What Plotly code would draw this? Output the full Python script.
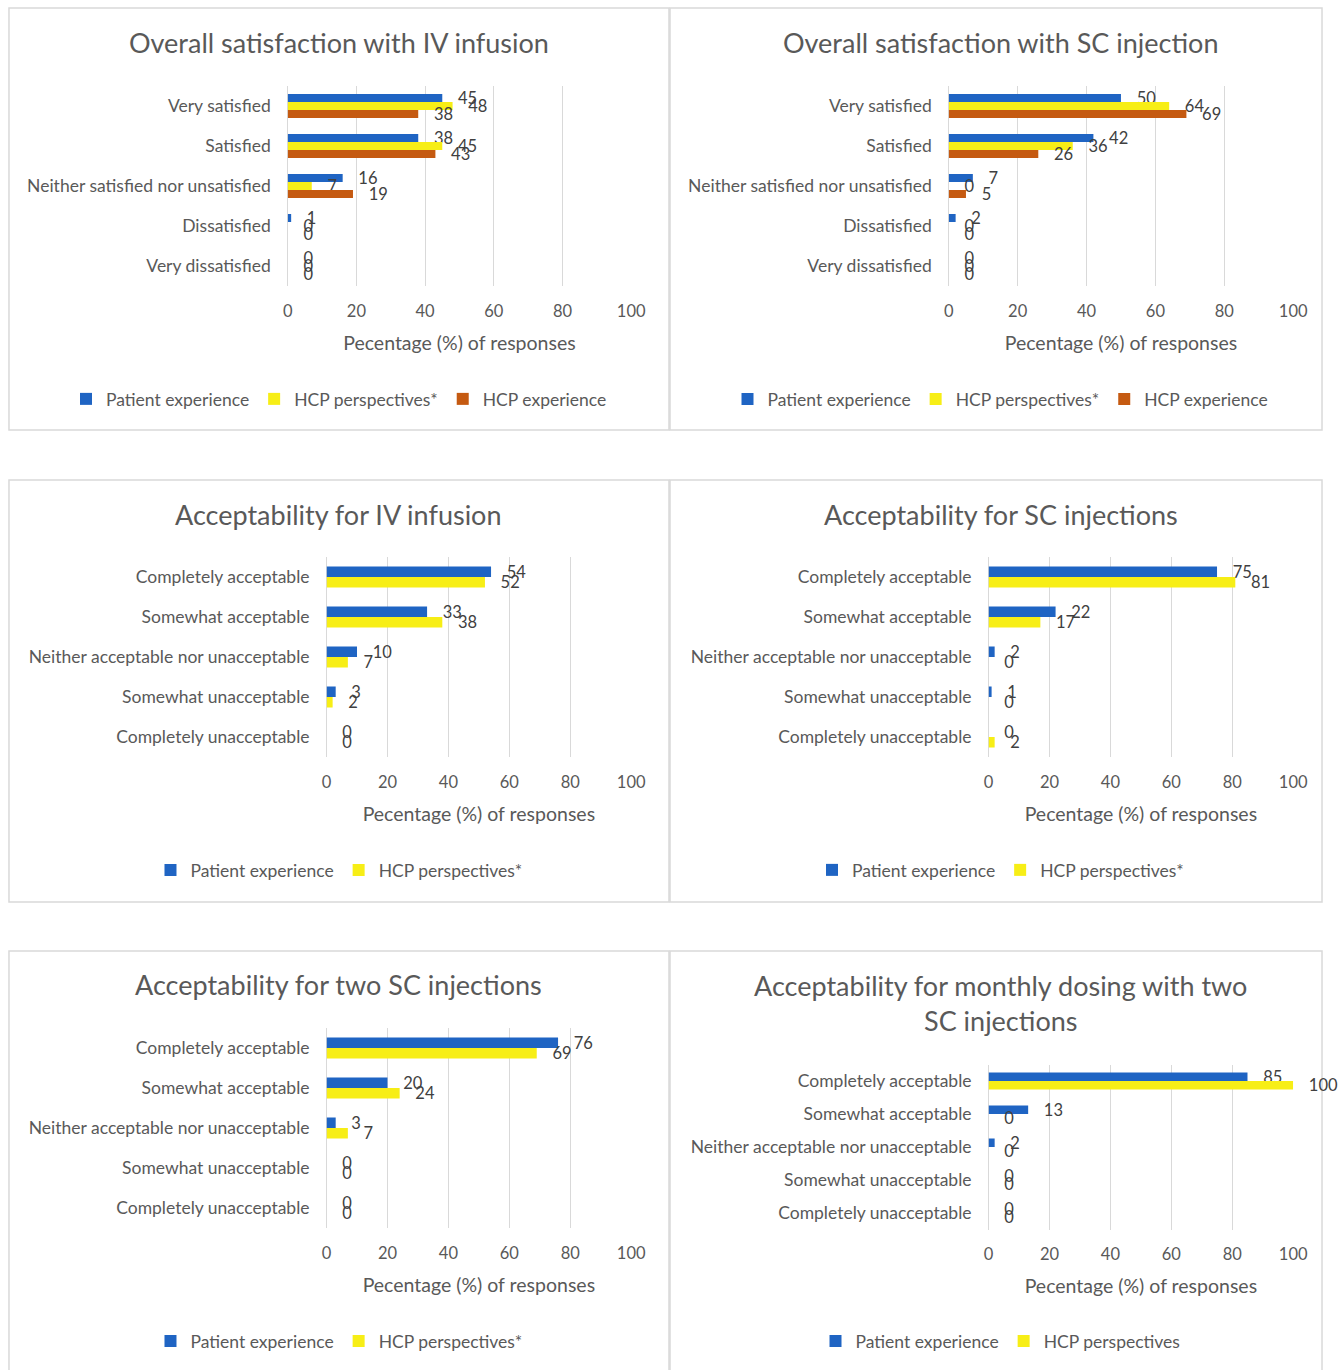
import plotly.graph_objects as go

W, H = 1338, 1370
FONT = "Lato"
TXT = "#595959"
BLUE = "#1F64C3"
YELLOW = "#F7EE16"
ORANGE = "#C55A11"
GRID = "#D9D9D9"

# ---------------- data ----------------
sat_categories = ["Very satisfied", "Satisfied", "Neither satisfied nor unsatisfied",
                  "Dissatisfied", "Very dissatisfied"]
acc_categories = ["Completely acceptable", "Somewhat acceptable",
                  "Neither acceptable nor unacceptable", "Somewhat unacceptable",
                  "Completely unacceptable"]

iv_sat_patient = [45, 38, 16, 1, 0]
iv_sat_hcp_persp = [48, 45, 7, 0, 0]
iv_sat_hcp_exp = [38, 43, 19, 0, 0]

sc_sat_patient = [50, 42, 7, 2, 0]
sc_sat_hcp_persp = [64, 36, 0, 0, 0]
sc_sat_hcp_exp = [69, 26, 5, 0, 0]

iv_acc_patient = [54, 33, 10, 3, 0]
iv_acc_hcp_persp = [52, 38, 7, 2, 0]

sc_acc_patient = [75, 22, 2, 1, 0]
sc_acc_hcp_persp = [81, 17, 0, 0, 2]

two_sc_patient = [76, 20, 3, 0, 0]
two_sc_hcp_persp = [69, 24, 7, 0, 0]

monthly_patient = [85, 13, 2, 0, 0]
monthly_hcp_persp = [100, 0, 0, 0, 0]

x_ticks = [0, 20, 40, 60, 80, 100]

titles = ["Overall satisfaction with IV infusion", "Overall satisfaction with SC injection",
          "Acceptability for IV infusion", "Acceptability for SC injections",
          "Acceptability for two SC injections",
          "Acceptability for monthly dosing with two<br>SC injections"]

# ---------------- layout geometry (pixels) ----------------
# the captured page is slightly squeezed horizontally; compensate target positions
def px(x):
    xd = (x - 3) / 0.9895
    return min(max(xd, 0), W - 1) / W

def py(y):
    return 1 - y / H

panels = [
    dict(x=(287, 632), y=(86, 286), box=(7, 8, 670, 430), ty=43, ly=399),
    dict(x=(951, 1297), y=(86, 286), box=(671, 8, 1335, 430), ty=43, ly=399),
    dict(x=(326, 632), y=(557, 757), box=(7, 480, 670, 902), ty=514, ly=870),
    dict(x=(991, 1297), y=(557, 757), box=(671, 480, 1335, 902), ty=514, ly=870),
    dict(x=(326, 632), y=(1028, 1228), box=(7, 951, 670, 1375), ty=985, ly=1341),
    dict(x=(991, 1297), y=(1064.5, 1229.5), box=(671, 951, 1335, 1375), ty=1003, ly=1341),
]

series = [
    (sat_categories, [("Patient experience", iv_sat_patient, BLUE),
                      ("HCP perspectives*", iv_sat_hcp_persp, YELLOW),
                      ("HCP experience", iv_sat_hcp_exp, ORANGE)]),
    (sat_categories, [("Patient experience", sc_sat_patient, BLUE),
                      ("HCP perspectives*", sc_sat_hcp_persp, YELLOW),
                      ("HCP experience", sc_sat_hcp_exp, ORANGE)]),
    (acc_categories, [("Patient experience", iv_acc_patient, BLUE),
                      ("HCP perspectives*", iv_acc_hcp_persp, YELLOW)]),
    (acc_categories, [("Patient experience", sc_acc_patient, BLUE),
                      ("HCP perspectives*", sc_acc_hcp_persp, YELLOW)]),
    (acc_categories, [("Patient experience", two_sc_patient, BLUE),
                      ("HCP perspectives*", two_sc_hcp_persp, YELLOW)]),
    (acc_categories, [("Patient experience", monthly_patient, BLUE),
                      ("HCP perspectives", monthly_hcp_persp, YELLOW)]),
]

fig = go.Figure()
layout = dict(
    width=W, height=H, margin=dict(l=0, r=0, t=0, b=0),
    paper_bgcolor="white", plot_bgcolor="white",
    barmode="overlay", showlegend=True,
    font=dict(family=FONT, color=TXT, size=16),
    shapes=[], annotations=[],
)

for i, (p, (cats, ser)) in enumerate(zip(panels, series)):
    k = i + 1
    xa = "x" if k == 1 else f"x{k}"
    ya = "y" if k == 1 else f"y{k}"
    lg = "legend" if k == 1 else f"legend{k}"
    n = len(ser)
    if n == 3:
        width = 0.2
        offsets = [-0.3, -0.1, 0.1]
    else:
        width = 0.26
        offsets = [-0.26, 0.0]
    for (name, vals, col), off in zip(ser, offsets):
        fig.add_trace(go.Bar(
            y=cats, x=vals, orientation="h", name=name,
            marker=dict(color=col, line=dict(width=0)),
            width=width, offset=off,
            text=vals, texttemplate="\u00a0\u00a0\u00a0%{x}", textposition="outside",
            textfont=dict(family=FONT, size=16.5, color="#404040"),
            constraintext="none", cliponaxis=False,
            xaxis=xa, yaxis=ya, legend=lg, hoverinfo="skip",
        ))
    xkey = "xaxis" if k == 1 else f"xaxis{k}"
    ykey = "yaxis" if k == 1 else f"yaxis{k}"
    layout[xkey] = dict(
        domain=[px(p["x"][0]), px(p["x"][1])], anchor=ya, range=[0, 100],
        tickvals=x_ticks, showgrid=True, gridcolor=GRID, gridwidth=1,
        zeroline=True, zerolinecolor=GRID, zerolinewidth=1, showline=False,
        ticks="", ticklabelstandoff=13,
        tickfont=dict(family=FONT, size=16.5, color=TXT),
        title=dict(text="Pecentage (%) of responses", standoff=16,
                   font=dict(family=FONT, size=19.5, color=TXT)),
        fixedrange=True,
    )
    layout[ykey] = dict(
        domain=[py(p["y"][1]), py(p["y"][0])], anchor=xa,
        type="category", categoryorder="array", categoryarray=cats,
        autorange="reversed", showgrid=False, zeroline=False, showline=False,
        ticks="", ticklabelstandoff=16,
        tickfont=dict(family=FONT, size=17.5, color=TXT),
        fixedrange=True,
    )
    bx0, by0, bx1, by1 = p["box"]
    layout["shapes"].append(dict(
        type="rect", xref="paper", yref="paper",
        x0=px(bx0), x1=px(bx1), y0=py(by1), y1=py(by0),
        line=dict(color=GRID, width=1.5), fillcolor="rgba(0,0,0,0)", layer="below",
    ))
    cx = (bx0 + bx1) / 2
    layout["annotations"].append(dict(
        text=titles[i], xref="paper", yref="paper", x=px(cx), y=py(p["ty"]),
        xanchor="center", yanchor="middle", showarrow=False,
        font=dict(family=FONT, size=27, color=TXT),
    ))
    layout[lg] = dict(
        orientation="h", x=px(cx), y=py(p["ly"]), xanchor="center", yanchor="middle",
        bgcolor="rgba(0,0,0,0)", font=dict(family=FONT, size=17.5, color=TXT),
        itemwidth=30, traceorder="normal", itemclick=False, itemdoubleclick=False,
    )

fig.update_layout(**layout)
fig.write_html("out.html")
